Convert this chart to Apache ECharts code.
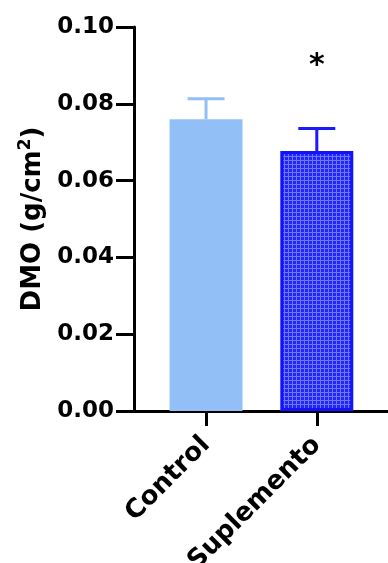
<!DOCTYPE html>
<html><head><meta charset="utf-8">
<script src="https://cdn.jsdelivr.net/npm/echarts@6/dist/echarts.min.js"></script>
<style>html,body{margin:0;padding:0;background:#fff}#c{width:388px;height:563px}</style>
</head><body><div id="c"></div>
<script>
// ---- data ----
const categories = ['Control', 'Suplemento'];
const means = [0.0760, 0.0677];
const errors = [0.0053, 0.0059];
const significance = ['', '*'];
const yMin = 0, yMax = 0.10, yInterval = 0.02;
const yAxisName = 'DMO (g/cm{sup|2})';

// ---- layout helpers (axis slots so the axis line overhangs like Prism) ----
const SLOTS = 17;
const slotOf = [5, 12];
const axisCats = [];
for (let i = 0; i < SLOTS; i++) axisCats.push('_pad' + i);
categories.forEach((c, k) => { axisCats[slotOf[k]] = c; });

const FONT = 'DejaVu Sans';

// crosshatch pattern for Suplemento
const pat = document.createElement('canvas');
pat.width = 4; pat.height = 4;
const pc = pat.getContext('2d');
pc.fillStyle = '#2424fb'; pc.fillRect(0, 0, 4, 4);
pc.fillStyle = '#6c7af4'; pc.fillRect(0, 0, 1, 4); pc.fillRect(0, 0, 4, 1);

const barStyles = [
  { color: '#93bff7' },
  { color: { image: pat, repeat: 'repeat' }, borderColor: '#1212ff', borderWidth: 3 }
];
const errColors = ['#93bff7', '#1a1aff'];

const barData = axisCats.map(() => '-');
categories.forEach((c, k) => { barData[slotOf[k]] = { value: means[k], itemStyle: barStyles[k] }; });
const errData = categories.map((c, k) => [slotOf[k], means[k], means[k] + errors[k], k]);

const isReal = (v) => categories.indexOf(v) >= 0;

const chart = echarts.init(document.getElementById('c'), null, { renderer: 'canvas' });
chart.setOption({
  animation: false,
  backgroundColor: '#fff',
  grid: { left: 119, right: 0, top: 27, bottom: 152, containLabel: false, outerBoundsMode: 'none' },
  xAxis: {
    type: 'category',
    data: axisCats,
    axisLine: { lineStyle: { color: '#000', width: 3 } },
    axisTick: { show: true, alignWithLabel: true, length: 15, lineStyle: { color: '#000', width: 3 },
      interval: (i, v) => isReal(v) },
    axisLabel: { interval: (i, v) => isReal(v), rotate: 45, margin: 30,
      color: '#000', fontFamily: FONT, fontWeight: 'bold', fontSize: 26 },
    splitLine: { show: false }
  },
  yAxis: {
    type: 'value', min: yMin, max: yMax, interval: yInterval, offset: -15,
    axisLine: { show: true, lineStyle: { color: '#000', width: 3 } },
    axisTick: { show: true, length: 18, lineStyle: { color: '#000', width: 3 } },
    axisLabel: { margin: 20, color: '#000', fontFamily: FONT, fontWeight: 'bold', fontSize: 23,
      formatter: (v) => v.toFixed(2) },
    splitLine: { show: false },
    name: yAxisName, nameLocation: 'middle', nameGap: 83, nameRotate: 90,
    nameTextStyle: { color: '#000', fontFamily: FONT, fontWeight: 'bold', fontSize: 26,
      rich: { sup: { fontSize: 17, fontFamily: FONT, fontWeight: 'bold', color: '#000', verticalAlign: 'top', padding: [0, 0, 16, 0] } } }
  },
  series: [
    { type: 'bar', data: barData, barWidth: 73, barGap: '-100%' },
    {
      type: 'custom',
      data: errData,
      z: 3,
      renderItem: (params, api) => {
        const x = api.value(0);
        const top = api.coord([x, api.value(1)]);
        const up = api.coord([x, api.value(2)]);
        const k = api.value(3);
        const col = errColors[k];
        const half = 18.5;
        const children = [
          { type: 'line', shape: { x1: top[0], y1: top[1], x2: up[0], y2: up[1] }, style: { stroke: col, lineWidth: 3 } },
          { type: 'line', shape: { x1: up[0] - half, y1: up[1], x2: up[0] + half, y2: up[1] }, style: { stroke: col, lineWidth: 3 } }
        ];
        if (significance[k]) {
          children.push({ type: 'text', style: { text: significance[k], x: up[0], y: up[1] - 62,
            align: 'center', verticalAlign: 'middle', font: 'bold 30px ' + FONT, fill: '#000' } });
        }
        return { type: 'group', children };
      }
    }
  ]
});
</script>
</body></html>
